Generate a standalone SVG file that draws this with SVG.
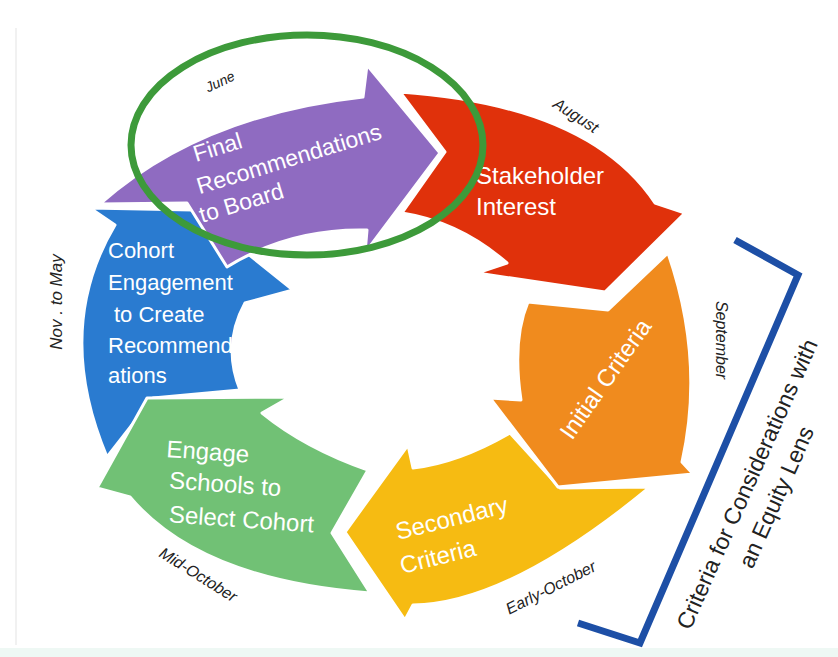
<svg xmlns="http://www.w3.org/2000/svg" width="838" height="657" viewBox="0 0 838 657">
<style>
.arrow{stroke:#ffffff;stroke-width:3;stroke-linejoin:round}
.lbl{font-family:"Liberation Sans",Arial,sans-serif;fill:#ffffff}
.big{font-size:24px}
.mid{font-size:22px}
.small{font-family:"Liberation Sans",Arial,sans-serif;font-style:italic;fill:#222222;text-anchor:middle}
.side{font-family:"Liberation Sans",Arial,sans-serif;font-size:23px;fill:#222222;text-anchor:middle}
</style>
<rect x="0" y="0" width="838" height="657" fill="#ffffff"/>
<line x1="16" y1="28" x2="16" y2="645" stroke="#f1f1f1" stroke-width="2"/>
<rect x="0" y="648" width="838" height="9" fill="#eef8f4"/>

<g id="cohort">
<path class="arrow" fill="#2a7bd0" d="M107,457 Q53,329 115,225 L90,208 L193,210 L293,290 L245,303 Q222,345 240,390 L153,398 Z"/>
<text class="lbl mid" x="108" y="258">Cohort</text>
<text class="lbl mid" x="108" y="290">Engagement</text>
<text class="lbl mid" x="114" y="322">to Create</text>
<text class="lbl mid" x="108" y="353">Recommend</text>
<text class="lbl mid" x="108" y="383">ations</text>
</g>

<g id="engage">
<path class="arrow" fill="#71c175" d="M370,593 Q200,580 130,497 L97,488 L147,398 L290,397 L262,413 Q305,448 368,470 L332,533 Z"/>
<text class="lbl big" transform="translate(166,457) rotate(4)"><tspan x="0" y="0">Engage</tspan><tspan x="5" y="31">Schools to</tspan><tspan x="7" y="65">Select Cohort</tspan></text>
</g>

<g id="secondary">
<path class="arrow" fill="#f6bb12" d="M650,487 Q508,604 413,605 L405,620 L345,532 L408,445 L413,468 Q458,463 510,433 L560,488 Z"/>
<text class="lbl big" transform="translate(398,540) rotate(-14)"><tspan x="0" y="0">Secondary</tspan><tspan x="-4" y="34">Criteria</tspan></text>
</g>

<g id="initial">
<path class="arrow" fill="#f08b1e" d="M668,253 Q705,360 682,462 L693,474 L558,487 L490,398 L521,400 Q512,340 528,302 L608,310 Z"/>
<text class="lbl big" transform="translate(572,441) rotate(-55)">Initial Criteria</text>
</g>

<g id="stakeholder">
<path class="arrow" fill="#e0310b" d="M400,92 Q590,105 655,203 L685,213 L605,292 L477,273 L507,263 Q460,222 402,213 L445,152 Z"/>
<text class="lbl big" x="476" y="184">Stakeholder</text>
<text class="lbl big" x="476" y="215">Interest</text>
</g>

<g id="final">
<path class="arrow" fill="#8f6bc1" d="M100,204 Q200,115 363,97 L367,65 L440,153 L365,253 L367,230 Q290,228 227,267 L187,203 Z"/>
<text class="lbl" font-size="23" transform="translate(196,162) rotate(-17)"><tspan x="0" y="0">Final</tspan><tspan x="-6" y="32">Recommendations</tspan><tspan x="-12" y="60">to Board</tspan></text>
</g>

<g id="months">
<text class="small" font-size="14" transform="translate(222,86) rotate(-25)">June</text>
<text class="small" font-size="16" transform="translate(573,120) rotate(33)">August</text>
<text class="small" font-size="16" transform="translate(721,340) rotate(90)" y="5">September</text>
<text class="small" font-size="16" transform="translate(551,588) rotate(-27)" y="5">Early-October</text>
<text class="small" font-size="16" transform="translate(198,575) rotate(32)" y="5">Mid-October</text>
<text class="small" font-size="17" transform="translate(57,302) rotate(-90)" y="5">Nov . to May</text>
</g>

<g id="equity">
<polyline points="735,240 798,275 640,643 578,623" fill="none" stroke="#1d4fa6" stroke-width="7" stroke-linejoin="miter"/>
<text class="side" transform="translate(747,484) rotate(-66)"><tspan x="0" y="8">Criteria for Considerations with</tspan><tspan x="0" y="40">an Equity Lens</tspan></text>
</g>

<g id="highlight">
<ellipse cx="307" cy="145" rx="176" ry="110" fill="none" stroke="#3d9a3a" stroke-width="7"/>
</g>
</svg>
